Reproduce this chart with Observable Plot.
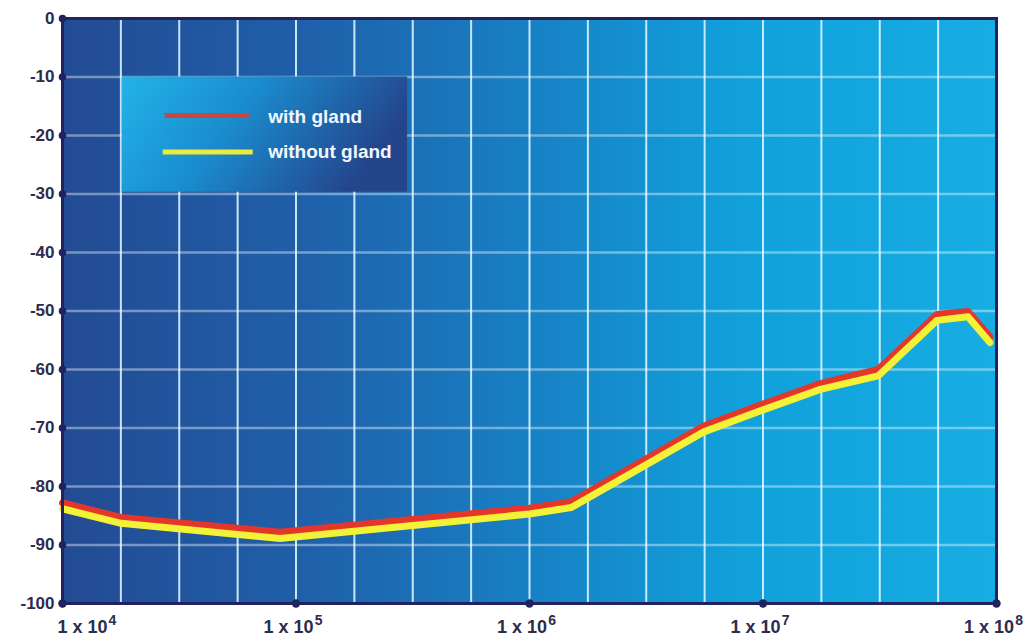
<!DOCTYPE html>
<html>
<head>
<meta charset="utf-8">
<script src="https://cdn.jsdelivr.net/npm/d3@7"></script>
<script src="https://cdn.jsdelivr.net/npm/@observablehq/plot@0.6"></script>
<style>
  html, body { margin: 0; padding: 0; background: #ffffff; }
  #chart svg { display: block; }
</style>
</head>
<body>
<div id="chart"></div>
<script>
// ---- data ----
const frequency    = [1e4, 1.78e4, 8.55e4, 1e6, 1.51e6, 5.55e6, 1e7, 1.76e7, 3.11e7, 5.56e7, 7.55e7, 9.37e7];
const withGland    = [-82.8, -85.3, -87.8, -83.7, -82.6, -69.7, -65.9, -62.4, -60.0, -50.6, -50.1, -54.4];
const withoutGland = [-83.8, -86.3, -88.9, -84.7, -83.6, -70.7, -66.9, -63.4, -61.1, -51.6, -51.0, -55.4];
const seriesNames  = ["with gland", "without gland"];
const seriesColors = ["#e5362a", "#f3f236"];
const legendColors = ["#cc463c", "#ecea3c"];

const yTicks = [0, -10, -20, -30, -40, -50, -60, -70, -80, -90, -100];
const xDecadeExponents = [4, 5, 6, 7, 8];
const xGridExponents = [4, 4.25, 4.5, 4.75, 5, 5.25, 5.5, 5.75, 6, 6.25, 6.5, 6.75, 7, 7.25, 7.5, 7.75, 8];

// tables built from the arrays
const rowsWith = frequency.map((f, i) => ({f, v: withGland[i]}));
const rowsWithout = frequency.map((f, i) => ({f, v: withoutGland[i]}));
const decades = xDecadeExponents.map(e => ({e, f: 10 ** e, label: "1 x 10^" + e}));
const gridX = xGridExponents.map(e => 10 ** e);

const navy = "#22225e";
const labelColor = "#2c2c4c";
const font = "Liberation Sans, Arial, sans-serif";

const svg = Plot.plot({
  width: 1024,
  height: 642,
  marginLeft: 62,
  marginRight: 28,
  marginTop: 18,
  marginBottom: 39,
  x: {type: "log", domain: [1e4, 1e8], axis: null},
  y: {domain: [-100, 0], axis: null},
  style: {background: "#ffffff"},
  marks: [
    Plot.frame({fill: "url(#bgGrad)", stroke: "none"}),
    Plot.ruleX(gridX, {stroke: "#d8f4ff", strokeOpacity: 0.9, strokeWidth: 2}),
    Plot.ruleY(yTicks, {stroke: "#ffffff", strokeOpacity: 0.4, strokeWidth: 2.5}),
    // legend box
    Plot.rect([seriesNames], {
      x1: () => 10 ** 4.256, x2: () => 10 ** 5.478,
      y1: () => -10, y2: () => -29.7,
      fill: "url(#legGrad)"
    }),
    Plot.ruleY([seriesNames[0]], {
      x1: () => 10 ** 4.44, x2: () => 10 ** 4.804, y: () => -16.6,
      stroke: legendColors[0], strokeWidth: 5
    }),
    Plot.ruleY([seriesNames[1]], {
      x1: () => 10 ** 4.431, x2: () => 10 ** 4.817, y: () => -22.8,
      stroke: legendColors[1], strokeWidth: 5
    }),
    Plot.text([seriesNames[0]], {
      x: () => 10 ** 4.881, y: () => -16.8, text: d => d,
      textAnchor: "start", lineAnchor: "middle", fill: "#f2f8fc",
      fontFamily: font, fontWeight: "bold", fontSize: 19
    }),
    Plot.text([seriesNames[1]], {
      x: () => 10 ** 4.881, y: () => -22.8, text: d => d,
      textAnchor: "start", lineAnchor: "middle", fill: "#f2f8fc",
      fontFamily: font, fontWeight: "bold", fontSize: 19
    }),
    // data lines
    Plot.line(rowsWith, {x: "f", y: "v", stroke: seriesColors[0], strokeWidth: 7, strokeLinejoin: "round"}),
    Plot.line(rowsWithout, {x: "f", y: "v", stroke: seriesColors[1], strokeWidth: 7, strokeLinejoin: "round"}),
    // frame and tick dots
    Plot.frame({stroke: navy, strokeWidth: 3}),
    Plot.dot(yTicks, {x: () => 1e4, y: d => d, r: 3.8, fill: navy}),
    Plot.dot(decades, {x: "f", y: () => -100, r: 4.2, fill: navy}),
    // y labels
    Plot.text(yTicks, {
      x: () => 1e4, y: d => d, text: d => String(d), dx: -8,
      textAnchor: "end", lineAnchor: "middle", fill: labelColor,
      fontFamily: font, fontWeight: "bold", fontSize: 17
    }),
    // x labels
    Plot.text(decades.slice(0, 1), {
      x: "f", y: () => -100, text: "label", dx: -5, dy: 24,
      textAnchor: "start", lineAnchor: "middle", fill: labelColor,
      fontFamily: font, fontWeight: "bold", fontSize: 18, className: "xlab"
    }),
    Plot.text(decades.slice(1), {
      x: "f", y: () => -100, text: "label", dx: -3, dy: 24,
      textAnchor: "middle", lineAnchor: "middle", fill: labelColor,
      fontFamily: font, fontWeight: "bold", fontSize: 18, className: "xlab"
    })
  ]
});

// gradients
const root = d3.select(svg);
const defs = root.insert("defs", ":first-child");
const bg = defs.append("linearGradient").attr("id", "bgGrad")
  .attr("x1", "0").attr("x2", "1").attr("y1", "0").attr("y2", "0");
[[0, "#234b93"], [0.25, "#1f5fa8"], [0.5, "#1880c4"], [0.72, "#11a0da"], [1, "#17ade3"]]
  .forEach(([o, c]) => bg.append("stop").attr("offset", o).attr("stop-color", c));
const lg = defs.append("linearGradient").attr("id", "legGrad")
  .attr("x1", "0").attr("x2", "1").attr("y1", "0").attr("y2", "0.3");
[[0, "#22b3e8"], [0.45, "#1a8dcf"], [1, "#24458c"]]
  .forEach(([o, c]) => lg.append("stop").attr("offset", o).attr("stop-color", c));

// superscript exponents on the x labels
root.selectAll(".xlab text").each(function () {
  const t = this.textContent;
  const [base, exp] = t.split("^");
  const sel = d3.select(this);
  sel.text(null);
  sel.append("tspan").text(base);
  sel.append("tspan").attr("dx", 1).attr("dy", -8).attr("font-size", 14).text(exp);
});

document.getElementById("chart").appendChild(svg);
</script>
</body>
</html>
